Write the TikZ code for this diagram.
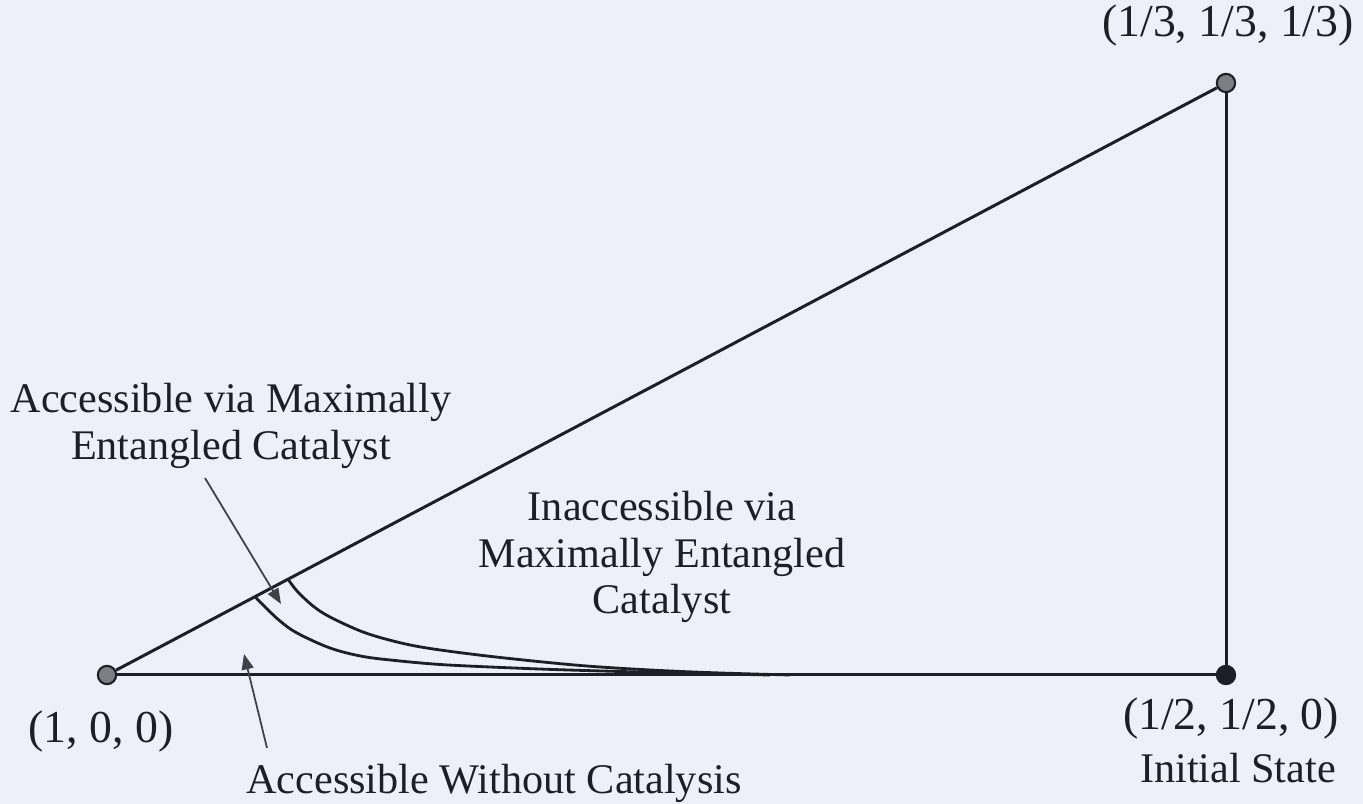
\documentclass[tikz,border=0pt]{standalone}
\usepackage{fontspec}
\setmainfont{Liberation Serif}
\usetikzlibrary{calc,arrows.meta}
\definecolor{paper}{RGB}{237,240,248}
\definecolor{ink}{RGB}{30,30,38}
\definecolor{vertexgray}{RGB}{125,125,132}

\begin{document}
\begin{tikzpicture}[x=0.01cm,y=-0.01cm,
  edge/.style={line width=0.85pt, draw=ink},
  boundary/.style={line width=0.8pt, draw=ink},
  pointer/.style={line width=0.5pt, draw=ink!85, -{Triangle[length=4.4pt,width=3.4pt]}},
  vertex/.style={circle, draw=ink, line width=0.6pt, fill=vertexgray, inner sep=0pt, minimum size=5.2pt},
  initial/.style={vertex, fill=ink},
  lbl/.style={inner sep=0pt, text=ink, font=\fontsize{12}{13.2}\selectfont, align=center},
  coordlbl/.style={inner sep=0pt, text=ink, font=\fontsize{13}{15}\selectfont, anchor=base}]

% page background and frame
\fill[paper] (0,0) rectangle (1363,804);
\useasboundingbox (0,0) rectangle (1363,804);

% corners of the triangle
\node[vertex]  (p1) at (107,675) {};
\node[initial] (p2) at (1226,675) {};
\node[vertex]  (p3) at (1226,83) {};

% triangle sides
\draw[edge] (p1) -- (p2);
\draw[edge] (p2) -- (p3);
\draw[edge] (p1) -- (p3);

% boundary curves starting on the upper side
\coordinate (innerstart) at ($(p1.center)!0.1323!(p3.center)$);
\coordinate (outerstart) at ($(p1.center)!0.1618!(p3.center)$);
\draw[boundary] plot[smooth, tension=0.55] coordinates {(innerstart) (264,606) (280,621) (297,633) (330,648) (363,656.5) (400,661) (440,664.5) (490,667) (553,669.5) (620,671.5) (700,673.5) (770,675)};
\draw[boundary] plot[smooth, tension=0.55] coordinates {(outerstart) (297,591) (313,606) (330,617) (363,632) (397,642) (430,648.5) (487,656) (553,663) (600,667) (660,670.5) (720,673) (790,675)};

% region labels
\node[lbl] (lblA) at (231,426) {Accessible via Maximally\\Entangled Catalyst};
\node[lbl] (lblB) at (662,557) {Inaccessible via\\Maximally Entangled\\Catalyst};
\node[lbl, anchor=base] (lblC) at (494,794) {Accessible Without Catalysis};

% pointers into the regions
\coordinate (tailA) at (205,478);
\coordinate (tipA) at (281,604);
\draw[pointer] (tailA) -- (tipA);
\coordinate (tailC) at (267,748);
\coordinate (tipC) at (244,654);
\draw[pointer] (tailC) -- (tipC);

% vertex coordinates
\node[coordlbl] (c1) at (101,743) {(1, 0, 0)};
\node[coordlbl] (c2) at (1231,730) {(1/2, 1/2, 0)};
\node[lbl, anchor=base] (c2note) at (1238,783) {Initial State};
\node[coordlbl] (c3) at (1228,37) {(1/3, 1/3, 1/3)};
\end{tikzpicture}
\end{document}
